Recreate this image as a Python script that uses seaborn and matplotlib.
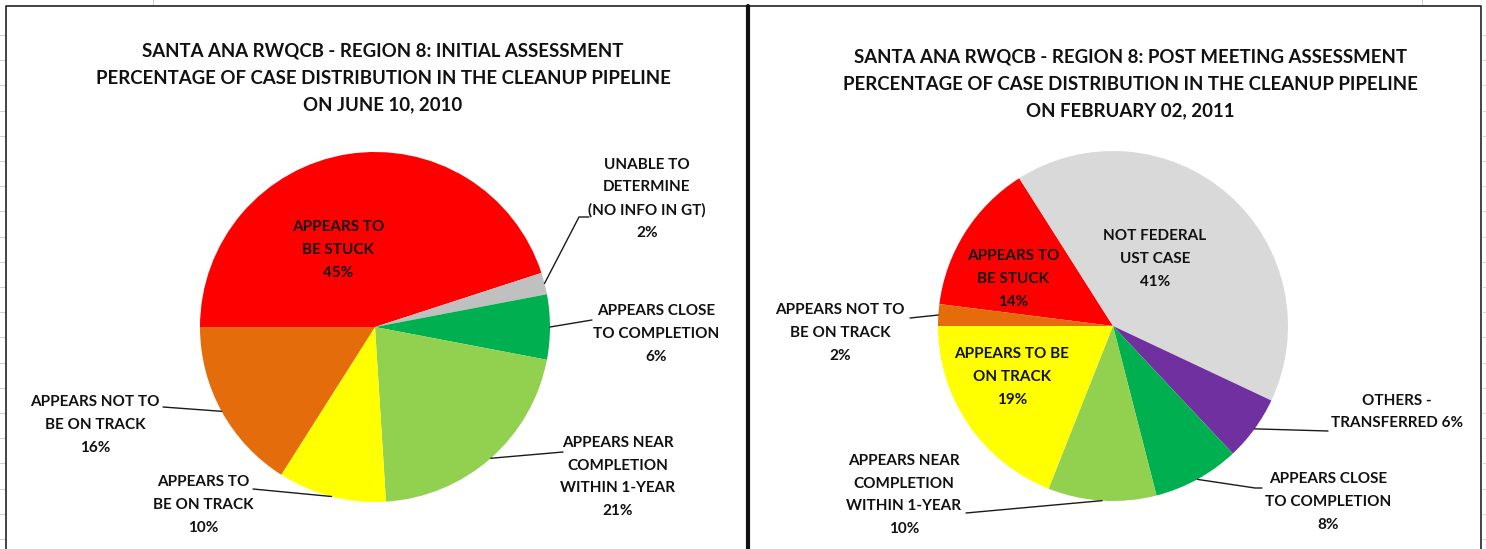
import numpy as np
import matplotlib.pyplot as plt
import seaborn as sns

# ---- data ----
left_title = "SANTA ANA RWQCB - REGION 8: INITIAL ASSESSMENT\nPERCENTAGE OF CASE DISTRIBUTION IN THE CLEANUP PIPELINE\nON JUNE 10, 2010"
left_labels = ["APPEARS TO\nBE STUCK", "UNABLE TO\nDETERMINE\n(NO INFO IN GT)", "APPEARS CLOSE\nTO COMPLETION",
               "APPEARS NEAR\nCOMPLETION\nWITHIN 1-YEAR", "APPEARS TO\nBE ON TRACK", "APPEARS NOT TO\nBE ON TRACK"]
left_values = [45, 2, 6, 21, 10, 16]
left_colors = ["#FF0000", "#C0C0C0", "#00B050", "#92D050", "#FFFF00", "#E46C0A"]

right_title = "SANTA ANA RWQCB - REGION 8: POST MEETING ASSESSMENT\nPERCENTAGE OF CASE DISTRIBUTION IN THE CLEANUP PIPELINE\nON FEBRUARY 02, 2011"
right_labels = ["APPEARS TO\nBE STUCK", "NOT FEDERAL\nUST CASE", "OTHERS -\nTRANSFERRED", "APPEARS CLOSE\nTO COMPLETION",
                "APPEARS NEAR\nCOMPLETION\nWITHIN 1-YEAR", "APPEARS TO BE\nON TRACK", "APPEARS NOT TO\nBE ON TRACK"]
right_values = [14, 41, 6, 8, 10, 19, 2]
right_colors = ["#FF0000", "#D9D9D9", "#7030A0", "#00B050", "#92D050", "#FFFF00", "#E46C0A"]

sns.set_theme(style="white")
plt.rcParams['font.family'] = ['Lato', 'DejaVu Sans']

W, H = 1486, 549
R = 175
fig = plt.figure(figsize=(W / 100, H / 100), dpi=100)


def draw_pie(values, colors, center, start):
    # pie drawn in an inset axis sized so that radius is ~175 px
    cx, cy = center
    pax = fig.add_axes([(cx - R) / W, 1 - (cy + R) / H, 2 * R / W, 2 * R / H])
    wedges, _ = pax.pie(values, colors=colors, startangle=start, counterclock=False,
                        wedgeprops=dict(linewidth=0))
    pax.set_xlim(-1, 1)
    pax.set_ylim(-1, 1)
    pax.set_aspect("auto")
    pax.axis("off")
    return wedges


lc = (375, 327)
rc = (1113, 326)
lw_ = draw_pie(left_values, left_colors, lc, 180)
rw_ = draw_pie(right_values, right_colors, rc, 172.8)

# overlay axis in pixel units for frames, titles and labels
ax = fig.add_axes([0, 0, 1, 1])
ax.patch.set_alpha(0)
ax.set_xlim(0, W)
ax.set_ylim(H, 0)
ax.axis("off")

# faint spreadsheet grid ticks at the edges
for y in np.arange(35, H, 25.2):
    ax.plot([0, 5], [y, y], color="#c9d3e6", lw=0.8)
    ax.plot([1483, W], [y, y], color="#c9d3e6", lw=0.8)
ax.plot([153, 153], [0, 5], color="#c9d3e6", lw=0.8)
ax.plot([1422, 1422], [0, 5], color="#c9d3e6", lw=0.8)

# chart frames
ax.plot([6, 6, 1481, 1481], [H, 6, 6, H], color="#222222", lw=1.2)
ax.plot([748, 748], [6, H], color="#111111", lw=3)

txt = dict(fontsize=11, fontweight="bold", color="#111111", ha="center", va="center", linespacing=1.78)
ttl = dict(fontsize=13.4, fontweight="bold", color="#111111", ha="center", va="center", linespacing=1.72)


def edge_point(w, center):
    a = np.deg2rad((w.theta1 + w.theta2) / 2)
    return center[0] + R * np.cos(a), center[1] - R * np.sin(a)


def leader(w, center, pts):
    ex, ey = edge_point(w, center)
    xs = [p[0] for p in pts] + [ex]
    ys = [p[1] for p in pts] + [ey]
    ax.plot(xs, ys, color="#1a1a1a", lw=1.0)


# ---- left pie labels ----
ax.text(383, 78, left_title, **ttl)
left_pos = [(338, 250, None), (647, 199, [(589, 217), (579, 217)]), (656, 334, [(592, 320)]),
            (618, 477, [(563, 452)]), (203, 505, [(253, 489)]), (95, 425, [(163, 407)])]
for w, lab, v, (tx, ty, pts) in zip(lw_, left_labels, left_values, left_pos):
    ax.text(tx, ty, f"{lab}\n{v}%", **txt)
    if pts is not None:
        leader(w, lc, pts)

# ---- right pie labels ----
ax.text(1130, 84, right_title, **ttl)
right_pos = [(1013, 279, None), (1155, 259, None), (1397, 412, [(1328, 431)]),
             (1328, 502, [(1262, 488), (1255, 488)]), (904, 495, [(966, 513)]),
             (1012, 377, None), (840, 333, [(910, 318)])]
for w, lab, v, (tx, ty, pts) in zip(rw_, right_labels, right_values, right_pos):
    s = f"{lab} {v}%" if lab.startswith("OTHERS") else f"{lab}\n{v}%"
    ax.text(tx, ty, s, **txt)
    if pts is not None:
        leader(w, rc, pts)

fig.savefig("out.png", dpi=100)
